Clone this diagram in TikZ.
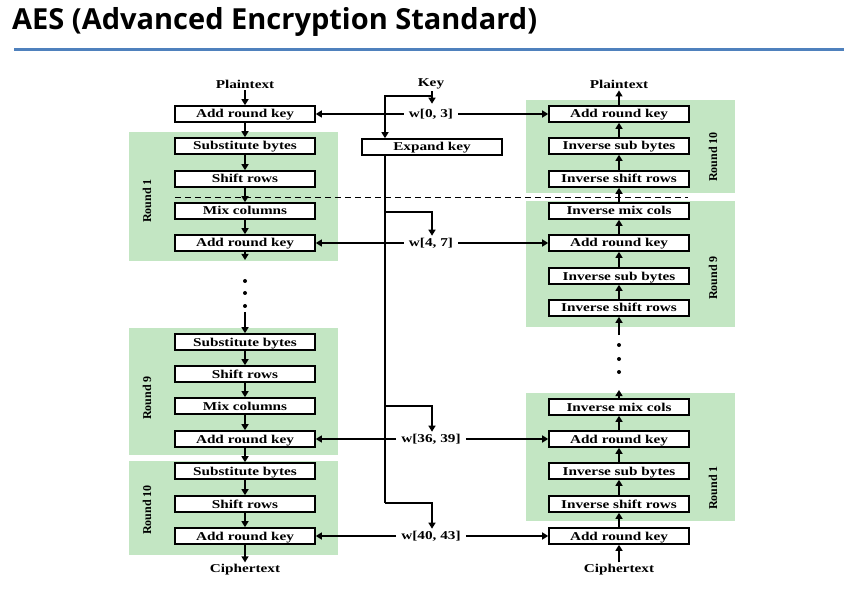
\documentclass[tikz,border=0pt]{standalone}
\usepackage{fontspec}
\setmainfont{Liberation Serif}
\newfontfamily\stagefont[FakeStretch=1.27]{Liberation Serif}
\newfontfamily\titlefont{Open Sans}
\usetikzlibrary{arrows.meta, positioning}
\definecolor{roundbg}{HTML}{C3E6C3}
\definecolor{titlerule}{HTML}{4F81BD}

\begin{document}
\begin{tikzpicture}[x=1pt, y=-1pt,
    stage/.style={draw, line width=1.6pt, fill=white, minimum width=140pt, minimum height=16pt, inner sep=0pt, text height=8pt, text depth=0pt, font=\stagefont\bfseries\fontsize{12}{12}\selectfont},
    io label/.style={inner sep=2pt, font=\stagefont\bfseries\fontsize{12}{12}\selectfont},
    key label/.style={inner sep=5pt, font=\stagefont\bfseries\fontsize{12}{12}\selectfont},
    round box/.style={fill=roundbg},
    round label/.style={rotate=90, font=\bfseries\fontsize{12}{12}\selectfont},
    flow/.style={line width=1.3pt, -{Triangle[width=7pt,length=6pt]}},
    wire/.style={line width=1.3pt},
    dot/.style={circle, fill=black, inner sep=0pt, minimum size=4pt},
]

\useasboundingbox[fill=white] (0,0) rectangle (844,596);

% Title
\node[anchor=west, inner sep=0pt, font=\titlefont\bfseries\fontsize{29}{29}\selectfont] (title) at (12,22) {AES (Advanced Encryption Standard)};
\draw[titlerule, line width=3pt] (14,50) -- (844,50);

% Round backgrounds
\fill[round box] (129,132) rectangle (338,261);
\fill[round box] (129,328) rectangle (338,455);
\fill[round box] (129,461) rectangle (338,555);
\fill[round box] (526,100) rectangle (735,193);
\fill[round box] (526,201) rectangle (735,327);
\fill[round box] (526,393) rectangle (735,521);

\node[round label] (lr1) at (147,201) {Round 1};
\node[round label] (lr9) at (147,398) {Round 9};
\node[round label] (lr10) at (147,510) {Round 10};
\node[round label] (rr10) at (713,157) {Round 10};
\node[round label] (rr9) at (713,278) {Round 9};
\node[round label] (rr1) at (713,488) {Round 1};

% Encryption
\node[io label] (ptin) at (245,84) {Plaintext};
\node[stage] (e0) at (245,114) {Add round key};
\node[stage] (e1) at (245,146) {Substitute bytes};
\node[stage] (e2) at (245,179) {Shift rows};
\node[stage] (e3) at (245,211) {Mix columns};
\node[stage] (e4) at (245,243) {Add round key};
\node[dot] (ed1) at (245,281) {};
\node[dot] (ed2) at (245,293) {};
\node[dot] (ed3) at (245,306) {};
\node[stage] (e5) at (245,342) {Substitute bytes};
\node[stage] (e6) at (245,374) {Shift rows};
\node[stage] (e7) at (245,406) {Mix columns};
\node[stage] (e8) at (245,439) {Add round key};
\node[stage] (e9) at (245,471) {Substitute bytes};
\node[stage] (e10) at (245,504) {Shift rows};
\node[stage] (e11) at (245,536) {Add round key};
\node[io label] (ctout) at (245,570) {Ciphertext};

\draw[flow] (ptin) -- (e0);
\draw[flow] (e0) -- (e1);
\draw[flow] (e1) -- (e2);
\draw[flow] (e2) -- (e3);
\draw[flow] (e3) -- (e4);
\draw[flow] (e4) -- ++(0,17);
\draw[flow] (245,312) -- (e5);
\draw[flow] (e5) -- (e6);
\draw[flow] (e6) -- (e7);
\draw[flow] (e7) -- (e8);
\draw[flow] (e8) -- (e9);
\draw[flow] (e9) -- (e10);
\draw[flow] (e10) -- (e11);
\draw[flow] (e11) -- (ctout);

% Decryption
\node[io label] (ptout) at (619,84) {Plaintext};
\node[stage] (d0) at (619,114) {Add round key};
\node[stage] (d1) at (619,146) {Inverse sub bytes};
\node[stage] (d2) at (619,179) {Inverse shift rows};
\node[stage] (d3) at (619,211) {Inverse mix cols};
\node[stage] (d4) at (619,243) {Add round key};
\node[stage] (d5) at (619,276) {Inverse sub bytes};
\node[stage] (d6) at (619,308) {Inverse shift rows};
\node[dot] (dd1) at (619,345) {};
\node[dot] (dd2) at (619,359) {};
\node[dot] (dd3) at (619,372) {};
\node[stage] (d7) at (619,407) {Inverse mix cols};
\node[stage] (d8) at (619,439) {Add round key};
\node[stage] (d9) at (619,471) {Inverse sub bytes};
\node[stage] (d10) at (619,504) {Inverse shift rows};
\node[stage] (d11) at (619,536) {Add round key};
\node[io label] (ctin) at (619,570) {Ciphertext};

\draw[flow] (ctin) -- (d11);
\draw[flow] (d11) -- (d10);
\draw[flow] (d10) -- (d9);
\draw[flow] (d9) -- (d8);
\draw[flow] (d8) -- (d7);
\draw[flow] (d7) -- ++(0,-17);
\draw[flow] (619,335) -- (d6);
\draw[flow] (d6) -- (d5);
\draw[flow] (d5) -- (d4);
\draw[flow] (d4) -- (d3);
\draw[flow] (d3) -- (d2);
\draw[flow] (d2) -- (d1);
\draw[flow] (d1) -- (d0);
\draw[flow] (d0) -- (ptout);

% Key expansion
\node[io label] (key) at (431,84) {Key};
\node[stage] (expand) at (432,147) {Expand key};
\node[key label] (w0) at (431,114) {w[0, 3]};
\node[key label] (w1) at (431,243) {w[4, 7]};
\node[key label] (w9) at (431,439) {w[36, 39]};
\node[key label] (w10) at (431,536) {w[40, 43]};

\coordinate (ksplit) at (432,96);
\draw[flow] (key.south -| ksplit) -- (w0.north -| ksplit);
\draw[flow] (ksplit) -| (expand.north -| 385,0);
\draw[wire] (expand.south -| 385,0) -- (385,503);
\draw[flow] (385,212) -| ([yshift=-3pt]w1.north -| ksplit);
\draw[flow] (385,406) -| ([yshift=-3pt]w9.north -| ksplit);
\draw[flow] (385,503) -| ([yshift=-3pt]w10.north -| ksplit);

\draw[flow] (w0) -- (e0);
\draw[flow] (w0) -- (d0);
\draw[flow] (w1) -- (e4);
\draw[flow] (w1) -- (d4);
\draw[flow] (w9) -- (e8);
\draw[flow] (w9) -- (d8);
\draw[flow] (w10) -- (e11);
\draw[flow] (w10) -- (d11);

% Round boundary
\draw[dash pattern=on 6pt off 4pt, line width=0.9pt] (175,197) -- (688,197);

\end{tikzpicture}
\end{document}
